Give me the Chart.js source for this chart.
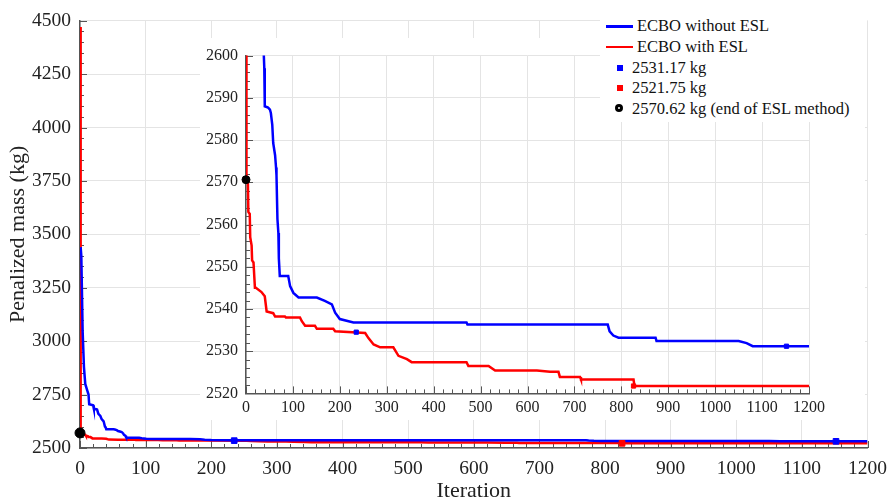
<!DOCTYPE html>
<html>
<head>
<meta charset="utf-8">
<script src="https://cdn.jsdelivr.net/npm/chart.js@4/dist/chart.umd.min.js"></script>
<style>
  body { margin: 0; background: #fff; }
  #wrap { position: relative; width: 896px; height: 504px; overflow: hidden; }
  #main { position: absolute; left: 0; top: 0; }
  #inset { position: absolute; left: 200px; top: 38px; background: #fff; }
  #legend { position: absolute; left: 600px; top: 14px; width: 267px; height: 108px; background: #fff;
            font-family: 'Liberation Serif', serif; font-size: 16.5px; color: #111; }
  .row { position: absolute; left: 0; height: 20px; line-height: 20px; white-space: nowrap; }
  .ln { position: absolute; left: 6px; top: 9px; width: 27px; height: 2.5px; }
  .sq { position: absolute; left: 17px; top: 7px; width: 6px; height: 6px; }
  .dot { position: absolute; left: 15px; top: 5px; width: 2px; height: 2px; border: 3.5px solid #000; border-radius: 50%; background: #fff; }
</style>
</head>
<body>
<div id="wrap">
  <canvas id="main" width="896" height="504"></canvas>
  <canvas id="inset" width="665" height="382"></canvas>
  <div id="legend"></div>
</div>
<script>
// convergence history
const blueIter = [1, 2, 4, 6, 8, 11, 13, 14, 20, 21, 26, 28, 31, 33, 36, 38, 39, 40, 47, 51, 53, 56, 58, 62, 64, 65, 67, 69, 70, 72, 90, 94, 101, 112, 151, 168, 183, 190, 200, 229, 470, 472, 771, 775, 783, 794, 873, 875, 1050, 1067, 1080, 1200];
const blueMass = [3440, 3400, 3050, 2880, 2800, 2770, 2750, 2705, 2700, 2685, 2680, 2660, 2650, 2635, 2625, 2600, 2597, 2588, 2587.7, 2587.2, 2586.4, 2583.6, 2579.3, 2576.4, 2573.5, 2571.6, 2561.3, 2558, 2552, 2547.8, 2547.8, 2545.4, 2543.8, 2542.7, 2542.7, 2541.9, 2541.1, 2539.1, 2537.6, 2536.8, 2536.8, 2536.3, 2536.3, 2534.7, 2533.7, 2533.2, 2533.2, 2532.4, 2532.4, 2531.9, 2531.17, 2531.17];

const redIter = [0, 1, 4, 5, 8, 9, 12, 13, 16, 19, 21, 33, 40, 44, 58, 62, 83, 85, 115, 119, 126, 147, 151, 186, 190, 254, 261, 272, 286, 314, 325, 343, 353, 470, 474, 517, 531, 620, 648, 666, 669, 712, 714, 826, 828, 1200];
const redMass = [4470, 2570.6, 2570, 2563, 2562.5, 2557, 2555, 2551.5, 2551, 2545, 2545, 2544, 2543, 2539.4, 2539, 2538.2, 2538.2, 2538, 2538, 2537.1, 2536, 2536, 2535.3, 2535.3, 2534.7, 2534.3, 2533.1, 2531.6, 2530.9, 2530.9, 2528.9, 2528.1, 2527.4, 2527.4, 2526.5, 2526.5, 2525.4, 2525.4, 2525.1, 2525.1, 2523.9, 2523.9, 2523.3, 2523.3, 2521.75, 2521.75];

// highlighted points
const blueMarkIter = [235, 1152];
const blueMarkMass = [2534.5, 2531.17];
const redMarkIter = [826];
const redMarkMass = [2521.75];
const eslEndIter = [0];
const eslEndMass = [2570.62];

const legendLabels = ['ECBO without ESL', 'ECBO with ESL', '2531.17 kg', '2521.75 kg', '2570.62 kg (end of ESL method)'];

const BLUE = '#0000ff', RED = '#ff0000';
const FONT = "'Liberation Serif', serif";
const pts = (xs, ys) => xs.map((x, i) => ({ x: x, y: ys[i] }));

function datasets(lw, ms) {
  return [
    { data: pts(eslEndIter, eslEndMass), showLine: false, pointRadius: ms + 1, pointBackgroundColor: '#000', pointBorderColor: '#000', order: 0, clip: false },
    { data: pts(blueMarkIter, blueMarkMass), showLine: false, pointStyle: 'rect', pointRadius: ms, pointBackgroundColor: BLUE, pointBorderColor: BLUE, order: 1, clip: false },
    { data: pts(redMarkIter, redMarkMass), showLine: false, pointStyle: 'rect', pointRadius: ms, pointBackgroundColor: RED, pointBorderColor: RED, order: 1, clip: false },
    { data: pts(blueIter, blueMass), borderColor: BLUE, borderWidth: lw, pointRadius: 0, order: 2 },
    { data: pts(redIter, redMass), borderColor: RED, borderWidth: lw, pointRadius: 0, order: 3 }
  ];
}

// small inward ticks between the labelled ones
function minorTicks(xStep, yStep) {
  return {
    id: 'minorTicks',
    beforeDatasetsDraw(chart) {
      const { ctx, chartArea: a, scales: { x, y } } = chart;
      ctx.save();
      ctx.strokeStyle = '#555';
      ctx.lineWidth = 1;
      ctx.beginPath();
      for (let i = 0; x.min + i * xStep <= x.max + 1e-6; i++) {
        const px = Math.round(x.getPixelForValue(x.min + i * xStep)) + 0.5;
        const l = i % 5 === 0 ? 7 : 4;
        ctx.moveTo(px, a.bottom); ctx.lineTo(px, a.bottom - l);
      }
      for (let i = 0; y.min + i * yStep <= y.max + 1e-6; i++) {
        const py = Math.round(y.getPixelForValue(y.min + i * yStep)) + 0.5;
        const l = i % 5 === 0 ? 7 : 4;
        ctx.moveTo(a.left, py); ctx.lineTo(a.left + l, py);
      }
      ctx.stroke();
      ctx.restore();
    }
  };
}

function axis(min, max, step, fontSize, pad, fitSize, isX, title) {
  const s = {
    type: 'linear', min: min, max: max,
    grid: { color: '#e4e4e4', lineWidth: 1, drawTicks: false },
    border: { display: true, color: '#555', width: 1.5 },
    ticks: { stepSize: step, autoSkip: false, maxRotation: 0, padding: pad, color: '#222',
             font: { family: FONT, size: fontSize }, callback: v => String(v) },
    afterFit: sc => { if (isX) sc.height = fitSize; else sc.width = fitSize; }
  };
  if (title) s.title = title;
  return s;
}

Chart.defaults.animation = false;
Chart.defaults.font.family = FONT;

new Chart(document.getElementById('main'), {
  type: 'line',
  data: { datasets: datasets(2.5, 4) },
  options: {
    responsive: false,
    layout: { padding: { top: 15, right: 27, left: 0, bottom: 0 } },
    plugins: { legend: { display: false }, tooltip: { enabled: false } },
    scales: {
      x: axis(0, 1200, 100, 19.5, 9, 56, true,
        { display: true, text: 'Iteration', color: '#222', font: { family: FONT, size: 22 }, padding: { top: 0, bottom: 0 } }),
      y: axis(2500, 4500, 250, 19.5, 9, 80, false,
        { display: true, text: 'Penalized mass (kg)', color: '#222', font: { family: FONT, size: 22 }, padding: { top: 5, bottom: 0 } })
    }
  },
  plugins: [minorTicks(20, 50)]
});

new Chart(document.getElementById('inset'), {
  type: 'line',
  data: { datasets: datasets(2.5, 3) },
  options: {
    responsive: false,
    layout: { padding: { top: 14, right: 56, left: 0, bottom: 0 } },
    plugins: { legend: { display: false }, tooltip: { enabled: false } },
    scales: {
      x: axis(0, 1200, 100, 16, 5, 26.6, true, null),
      y: axis(2520, 2600, 10, 16, 8, 46, false, null)
    }
  },
  plugins: [minorTicks(20, 2)]
});

// legend
const leg = document.getElementById('legend');
const swatch = ['<span class="ln" style="background:' + BLUE + '"></span>',
                '<span class="ln" style="background:' + RED + '"></span>',
                '<span class="sq" style="background:' + BLUE + '"></span>',
                '<span class="sq" style="background:' + RED + '"></span>',
                '<span class="dot"></span>'];
legendLabels.forEach((t, i) => {
  const r = document.createElement('div');
  r.className = 'row';
  r.style.top = (2 + i * 20.8) + 'px';
  r.innerHTML = swatch[i] + '<span style="position:absolute;left:' + (i < 2 ? 37 : 32) + 'px">' + t + '</span>';
  leg.appendChild(r);
});
</script>
</body>
</html>
